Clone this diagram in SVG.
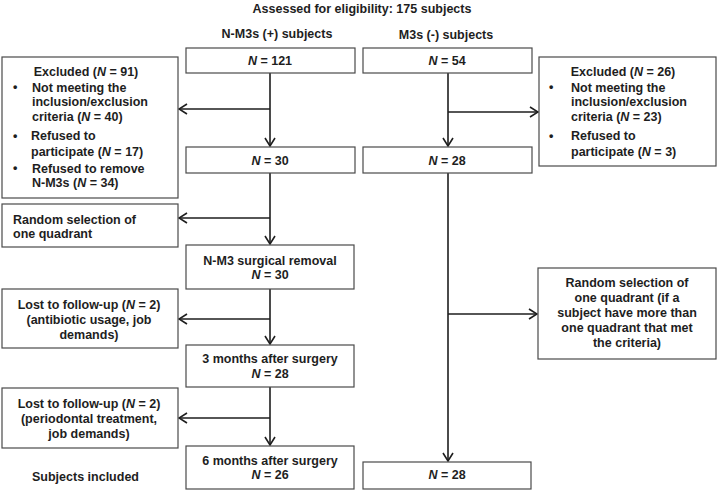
<svg xmlns="http://www.w3.org/2000/svg" width="718" height="491" viewBox="0 0 718 491">
<defs>
<style>
text{font-family:"Liberation Sans",Arial,sans-serif;font-weight:bold;font-size:12.5px;fill:#1e1e1e}
.c{text-anchor:middle}
.box{fill:#fff;stroke:#4a4a4a;stroke-width:1.2}
.ln{fill:none;stroke:#1e1e1e;stroke-width:1.6}
</style>
<marker id="ah" viewBox="0 0 10 12" refX="9" refY="6" markerWidth="10" markerHeight="12" markerUnits="userSpaceOnUse" orient="auto">
<path d="M1,1 L9,6 L1,11" fill="none" stroke="#1e1e1e" stroke-width="1.6"/>
</marker>
</defs>
<rect width="718" height="491" fill="#fff"/>
<text class="c" x="362" y="13">Assessed for eligibility: 175 subjects</text>
<text class="c" x="277" y="38">N-M3s (+) subjects</text>
<text class="c" x="446" y="39">M3s (-) subjects</text>
<text x="32" y="481">Subjects included</text>

<g id="connectors">
<path class="ln" d="M270,73 V146" marker-end="url(#ah)"/>
<path class="ln" d="M270,109 H179" marker-end="url(#ah)"/>
<path class="ln" d="M270,173 V244" marker-end="url(#ah)"/>
<path class="ln" d="M270,218 H179" marker-end="url(#ah)"/>
<path class="ln" d="M270,289 V344" marker-end="url(#ah)"/>
<path class="ln" d="M270,319 H179" marker-end="url(#ah)"/>
<path class="ln" d="M270,387 V445" marker-end="url(#ah)"/>
<path class="ln" d="M270,418 H179" marker-end="url(#ah)"/>
<path class="ln" d="M448,73 V146" marker-end="url(#ah)"/>
<path class="ln" d="M448,112 H538" marker-end="url(#ah)"/>
<path class="ln" d="M448,173 V461" marker-end="url(#ah)"/>
<path class="ln" d="M448,314 H537" marker-end="url(#ah)"/>
</g>

<g id="n121"><rect class="box" x="186" y="48" width="169" height="25"/><text class="c" x="270" y="65"><tspan font-style="italic">N</tspan> = 121</text></g>
<g id="n54"><rect class="box" x="363" y="48" width="169" height="25"/><text class="c" x="447" y="65"><tspan font-style="italic">N</tspan> = 54</text></g>

<g id="excl-left"><rect class="box" x="2" y="57" width="176" height="141"/>
<text class="c" x="86" y="76">Excluded (<tspan font-style="italic">N</tspan> = 91)</text>
<text x="13" y="91">•</text>
<text x="32" y="91.5">Not meeting the</text>
<text x="32" y="106">inclusion/exclusion</text>
<text x="32" y="121">criteria (<tspan font-style="italic">N</tspan> = 40)</text>
<text x="13" y="140">•</text>
<text x="31" y="140">Refused to</text>
<text x="31" y="155.5">participate (<tspan font-style="italic">N</tspan> = 17)</text>
<text x="13" y="172">•</text>
<text x="32" y="172.5">Refused to remove</text>
<text x="32" y="187">N-M3s (<tspan font-style="italic">N</tspan> = 34)</text>
</g>

<g id="excl-right"><rect class="box" x="539" y="57" width="177" height="109"/>
<text class="c" x="623" y="76">Excluded (<tspan font-style="italic">N</tspan> = 26)</text>
<text x="549" y="91">•</text>
<text x="571" y="91.5">Not meeting the</text>
<text x="571" y="106">inclusion/exclusion</text>
<text x="571" y="121">criteria (<tspan font-style="italic">N</tspan> = 23)</text>
<text x="549" y="140">•</text>
<text x="571" y="140">Refused to</text>
<text x="571" y="155.5">participate (<tspan font-style="italic">N</tspan> = 3)</text>
</g>

<g id="n30"><rect class="box" x="186" y="147" width="169" height="26"/><text class="c" x="270" y="164.5"><tspan font-style="italic">N</tspan> = 30</text></g>
<g id="n28"><rect class="box" x="363" y="147" width="169" height="26"/><text class="c" x="447" y="164.5"><tspan font-style="italic">N</tspan> = 28</text></g>

<g id="random-left"><rect class="box" x="2" y="204" width="176" height="43"/>
<text x="13" y="223.5">Random selection of</text>
<text x="13" y="238">one quadrant</text>
</g>

<g id="surgery"><rect class="box" x="186" y="245" width="168" height="44"/>
<text class="c" x="270" y="264.5">N-M3 surgical removal</text>
<text class="c" x="270" y="278.5"><tspan font-style="italic">N</tspan> = 30</text>
</g>

<g id="lost1"><rect class="box" x="2" y="289" width="176" height="59"/>
<text class="c" x="89" y="308.5">Lost to follow-up (<tspan font-style="italic">N</tspan> = 2)</text>
<text class="c" x="89" y="323.5">(antibiotic usage, job</text>
<text class="c" x="89" y="338.5">demands)</text>
</g>

<g id="m3"><rect class="box" x="186" y="345" width="168" height="42"/>
<text class="c" x="270" y="362.5">3 months after surgery</text>
<text class="c" x="270" y="377.5"><tspan font-style="italic">N</tspan> = 28</text>
</g>

<g id="lost2"><rect class="box" x="2" y="388" width="176" height="60"/>
<text class="c" x="89" y="407.5">Lost to follow-up (<tspan font-style="italic">N</tspan> = 2)</text>
<text class="c" x="89" y="422.5">(periodontal treatment,</text>
<text class="c" x="89" y="437.5">job demands)</text>
</g>

<g id="m6"><rect class="box" x="186" y="446" width="168" height="43"/>
<text class="c" x="270" y="464.5">6 months after surgery</text>
<text class="c" x="270" y="478.5"><tspan font-style="italic">N</tspan> = 26</text>
</g>

<g id="random-right"><rect class="box" x="538" y="268" width="178" height="91"/>
<text class="c" x="627" y="286.5">Random selection of</text>
<text class="c" x="627" y="301.5">one quadrant (if a</text>
<text class="c" x="627" y="316.5">subject have more than</text>
<text class="c" x="627" y="331.5">one quadrant that met</text>
<text class="c" x="627" y="346.5">the criteria)</text>
</g>

<g id="n28b"><rect class="box" x="363" y="462" width="168" height="27"/><text class="c" x="447" y="479"><tspan font-style="italic">N</tspan> = 28</text></g>
</svg>
